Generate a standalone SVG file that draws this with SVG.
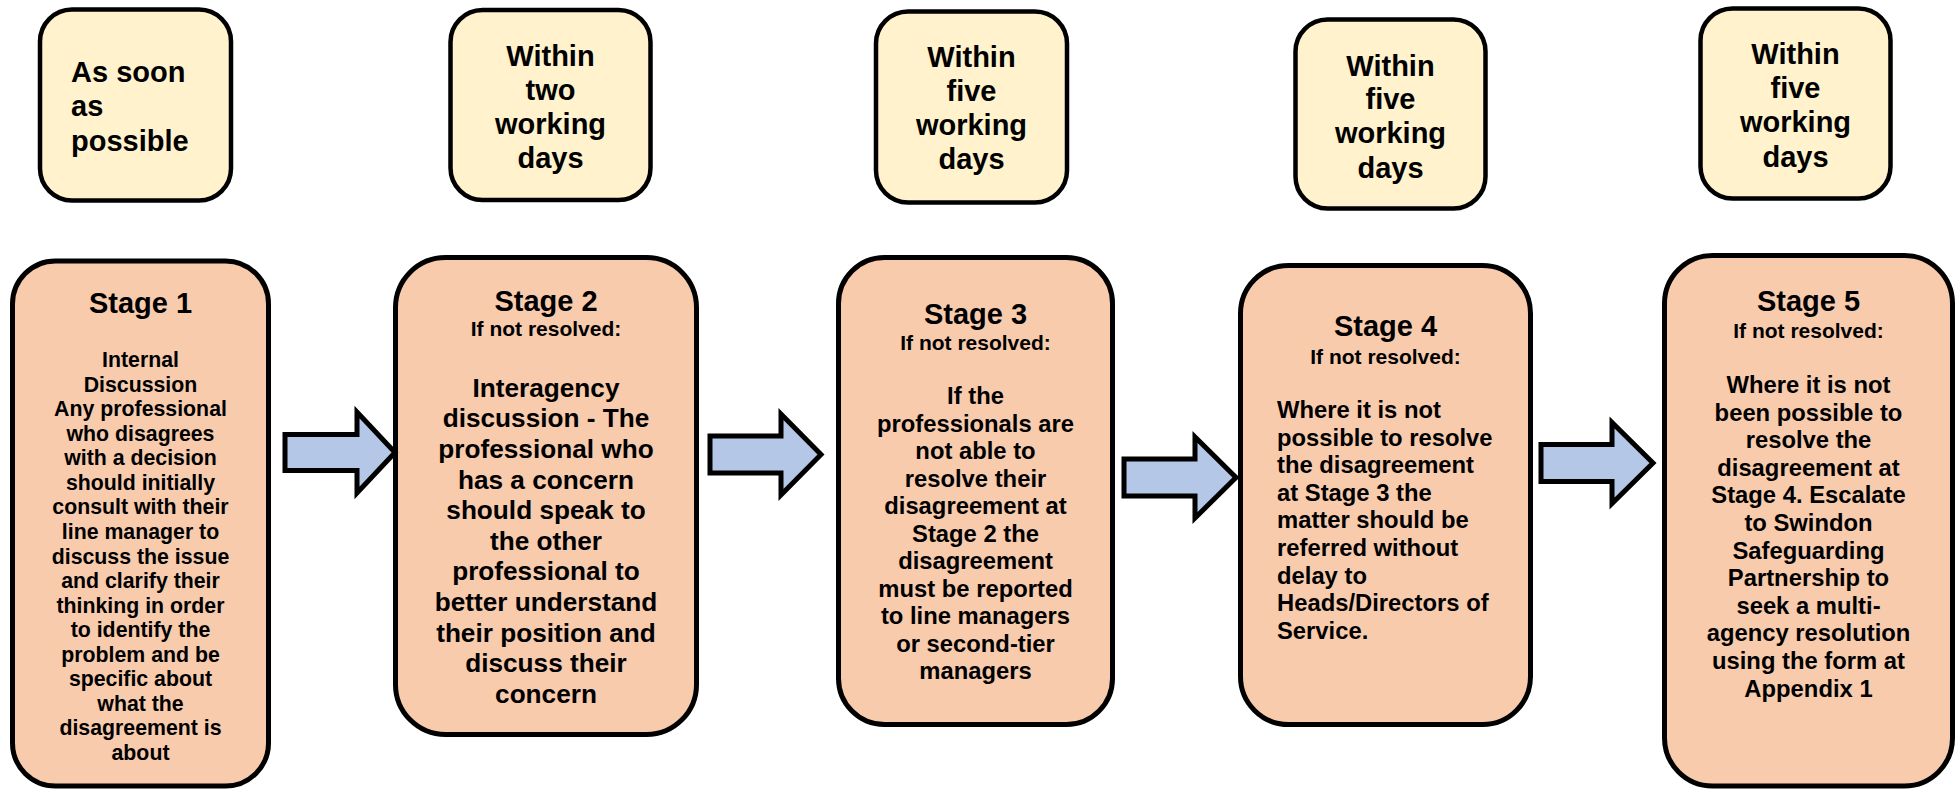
<svg xmlns="http://www.w3.org/2000/svg" width="1955" height="791" viewBox="0 0 1955 791">
<style>
.time{fill:#FFF2CC;stroke:#000;stroke-width:4.5}
.stage{fill:#F8CBAD;stroke:#000;stroke-width:5}
.arrow{fill:#B4C7E7;stroke:#000;stroke-width:5;stroke-linejoin:miter}
text{font-family:"Liberation Sans",Arial,sans-serif;font-weight:bold;fill:#000}
.t{font-size:29px;text-anchor:middle}
.tl{font-size:29px}
.h{font-size:29px;text-anchor:middle}
.s{font-size:21px;text-anchor:middle}
.b1{font-size:21.3px;text-anchor:middle}
.b2{font-size:26.2px;text-anchor:middle}
.b{font-size:23.8px;text-anchor:middle}
.bl{font-size:23.8px}
</style>
<rect width="1955" height="791" fill="#fff"/>
<g id="time1">
<rect class="time" x="40" y="9.5" width="191" height="191" rx="32"/>
<text class="tl"><tspan x="71" y="82">As soon</tspan><tspan x="71" y="116">as</tspan><tspan x="71" y="150.5">possible</tspan></text>
</g>
<g id="time2">
<rect class="time" x="450.5" y="10" width="200" height="190" rx="32"/>
<text class="t"><tspan x="550.5" y="65.5">Within</tspan><tspan x="550.5" y="99.7">two</tspan><tspan x="550.5" y="133.9">working</tspan><tspan x="550.5" y="168.1">days</tspan></text>
</g>
<g id="time3">
<rect class="time" x="876" y="11.5" width="191" height="191" rx="32"/>
<text class="t"><tspan x="971.5" y="66.5">Within</tspan><tspan x="971.5" y="100.7">five</tspan><tspan x="971.5" y="134.9">working</tspan><tspan x="971.5" y="169.1">days</tspan></text>
</g>
<g id="time4">
<rect class="time" x="1295.5" y="19.5" width="190" height="189" rx="32"/>
<text class="t"><tspan x="1390.5" y="75.5">Within</tspan><tspan x="1390.5" y="109.2">five</tspan><tspan x="1390.5" y="143.4">working</tspan><tspan x="1390.5" y="177.6">days</tspan></text>
</g>
<g id="time5">
<rect class="time" x="1700.5" y="8.5" width="190" height="190" rx="32"/>
<text class="t"><tspan x="1795.5" y="64">Within</tspan><tspan x="1795.5" y="98.2">five</tspan><tspan x="1795.5" y="132.4">working</tspan><tspan x="1795.5" y="166.6">days</tspan></text>
</g>
<g id="stage1">
<rect class="stage" x="12.5" y="261" width="256" height="525" rx="43"/>
<text class="h" x="140.5" y="313">Stage 1</text>
<text class="b1"><tspan x="140.5" y="367">Internal</tspan><tspan x="140.5" y="391.6">Discussion</tspan><tspan x="140.5" y="416.1">Any professional</tspan><tspan x="140.5" y="440.7">who disagrees</tspan><tspan x="140.5" y="465.2">with a decision</tspan><tspan x="140.5" y="489.8">should initially</tspan><tspan x="140.5" y="514.4">consult with their</tspan><tspan x="140.5" y="538.9">line manager to</tspan><tspan x="140.5" y="563.5">discuss the issue</tspan><tspan x="140.5" y="588">and clarify their</tspan><tspan x="140.5" y="612.6">thinking in order</tspan><tspan x="140.5" y="637.2">to identify the</tspan><tspan x="140.5" y="661.7">problem and be</tspan><tspan x="140.5" y="686.3">specific about</tspan><tspan x="140.5" y="710.8">what the</tspan><tspan x="140.5" y="735.4">disagreement is</tspan><tspan x="140.5" y="760">about</tspan></text>
</g>
<g id="stage2">
<rect class="stage" x="395.5" y="257.5" width="301" height="477" rx="50"/>
<text class="h" x="546" y="310.6">Stage 2</text>
<text class="s" x="546" y="336">If not resolved:</text>
<text class="b2"><tspan x="546" y="396.5">Interagency</tspan><tspan x="546" y="427.2">discussion - The</tspan><tspan x="546" y="457.8">professional who</tspan><tspan x="546" y="488.5">has a concern</tspan><tspan x="546" y="519.1">should speak to</tspan><tspan x="546" y="549.8">the other</tspan><tspan x="546" y="580.4">professional to</tspan><tspan x="546" y="611.1">better understand</tspan><tspan x="546" y="641.7">their position and</tspan><tspan x="546" y="672.4">discuss their</tspan><tspan x="546" y="703">concern</tspan></text>
</g>
<g id="stage3">
<rect class="stage" x="838.5" y="257.5" width="274" height="467" rx="46"/>
<text class="h" x="975.5" y="324">Stage 3</text>
<text class="s" x="975.5" y="350">If not resolved:</text>
<text class="b"><tspan x="975.5" y="404">If the</tspan><tspan x="975.5" y="431.5">professionals are</tspan><tspan x="975.5" y="459">not able to</tspan><tspan x="975.5" y="486.5">resolve their</tspan><tspan x="975.5" y="514">disagreement at</tspan><tspan x="975.5" y="541.5">Stage 2 the</tspan><tspan x="975.5" y="569">disagreement</tspan><tspan x="975.5" y="596.5">must be reported</tspan><tspan x="975.5" y="624">to line managers</tspan><tspan x="975.5" y="651.5">or second-tier</tspan><tspan x="975.5" y="679">managers</tspan></text>
</g>
<g id="stage4">
<rect class="stage" x="1240.5" y="265.5" width="290" height="459" rx="48"/>
<text class="h" x="1385.5" y="336">Stage 4</text>
<text class="s" x="1385.5" y="363.6">If not resolved:</text>
<text class="bl"><tspan x="1277" y="418">Where it is not</tspan><tspan x="1277" y="445.6">possible to resolve</tspan><tspan x="1277" y="473.2">the disagreement</tspan><tspan x="1277" y="500.8">at Stage 3 the</tspan><tspan x="1277" y="528.4">matter should be</tspan><tspan x="1277" y="556">referred without</tspan><tspan x="1277" y="583.6">delay to</tspan><tspan x="1277" y="611.2">Heads/Directors of</tspan><tspan x="1277" y="638.8">Service.</tspan></text>
</g>
<g id="stage5">
<rect class="stage" x="1664.5" y="255.5" width="288" height="530.5" rx="48"/>
<text class="h" x="1808.5" y="310.6">Stage 5</text>
<text class="s" x="1808.5" y="337.5">If not resolved:</text>
<text class="b"><tspan x="1808.5" y="393">Where it is not</tspan><tspan x="1808.5" y="420.6">been possible to</tspan><tspan x="1808.5" y="448.2">resolve the</tspan><tspan x="1808.5" y="475.8">disagreement at</tspan><tspan x="1808.5" y="503.4">Stage 4. Escalate</tspan><tspan x="1808.5" y="531">to Swindon</tspan><tspan x="1808.5" y="558.6">Safeguarding</tspan><tspan x="1808.5" y="586.2">Partnership to</tspan><tspan x="1808.5" y="613.8">seek a multi-</tspan><tspan x="1808.5" y="641.4">agency resolution</tspan><tspan x="1808.5" y="669">using the form at</tspan><tspan x="1808.5" y="696.6">Appendix 1</tspan></text>
</g>
<g id="connectors">
<polygon class="arrow" points="285,434.5 357,434.5 357,412 395,452.5 357,493 357,470.5 285,470.5"/>
<polygon class="arrow" points="710,436 781,436 781,414 821,454.5 781,495 781,473 710,473"/>
<polygon class="arrow" points="1124,459 1195,459 1195,437 1236,477.5 1195,518 1195,496 1124,496"/>
<polygon class="arrow" points="1541,444.5 1612,444.5 1612,422.5 1653,463 1612,503.5 1612,481.5 1541,481.5"/>
</g>
</svg>
